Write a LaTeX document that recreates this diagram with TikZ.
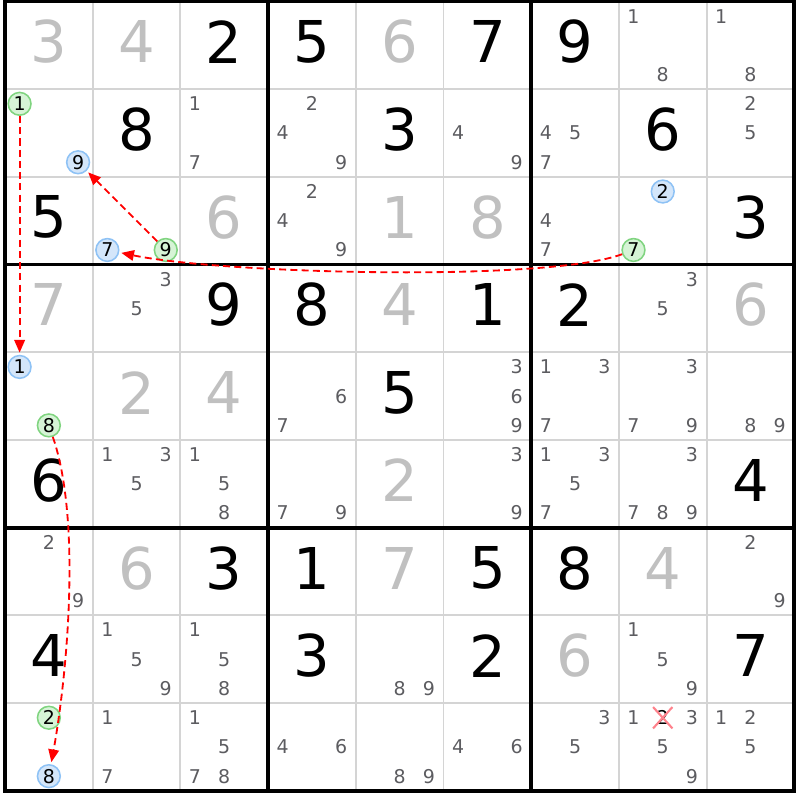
\documentclass[tikz,border=0pt]{standalone}
\usepackage{fontspec}
\setmainfont{DejaVu Sans}
\usetikzlibrary{arrows.meta,calc}
\tikzset{>={Triangle[length=9pt,width=7.5pt]}}
\definecolor{solvedgray}{RGB}{192,192,192}
\definecolor{candgray}{RGB}{92,92,96}
\definecolor{gridgray}{RGB}{212,212,212}
\definecolor{ongreen}{RGB}{128,212,128}
\definecolor{ongreenfill}{RGB}{214,244,214}
\definecolor{offblue}{RGB}{142,194,245}
\definecolor{offbluefill}{RGB}{212,230,250}
\definecolor{elimred}{RGB}{255,130,140}
\tikzstyle{given}=[font=\fontsize{41}{41}\selectfont,text=black,inner sep=0pt,yshift=2.5pt]
\tikzstyle{solved}=[given,text=solvedgray]
\tikzstyle{cand}=[font=\fontsize{13.5}{13.5}\selectfont,text=candgray,inner sep=0pt]
\tikzstyle{chainon}=[cand,circle,text=black,draw=ongreen,fill=ongreenfill,line width=1.1pt,minimum size=0.57cm]
\tikzstyle{chainoff}=[cand,circle,text=black,draw=offblue,fill=offbluefill,line width=1.1pt,minimum size=0.57cm]
\tikzstyle{elim}=[cand,text=black,inner sep=2.4pt]
\tikzstyle{thinline}=[gridgray,line width=1.4pt]
\tikzstyle{boxline}=[black,line width=2.6pt]
\tikzstyle{link}=[->,red,line width=1.3pt,dash pattern=on 5pt off 3pt,shorten >=1.5pt]

\begin{document}
\begin{tikzpicture}[x=2.1925cm,y=-2.1925cm]
	\useasboundingbox (-0.057,-0.017) rectangle (9.065,9.105);
	% grid
	\foreach \i in {1,2,4,5,7,8} {
		\draw[thinline] (\i,0) -- (\i,9);
		\draw[thinline] (0,\i) -- (9,\i);
	}
	\foreach \i in {3,6} {
		\draw[boxline] (\i,0) -- (\i,9);
		\draw[boxline] (0,\i) -- (9,\i);
	}
	\draw[boxline] (0,0) rectangle (9,9);

	% givens and solved cells
	\foreach \r/\c/\d in {1/3/2,1/4/5,1/6/7,1/7/9,2/2/8,2/5/3,2/8/6,3/1/5,3/9/3,
		4/3/9,4/4/8,4/6/1,4/7/2,5/5/5,6/1/6,6/9/4,7/3/3,7/4/1,7/6/5,7/7/8,
		8/1/4,8/4/3,8/6/2,8/9/7}
		\node[given] (cell\r\c) at (\c-0.5,\r-0.5) {\d};
	\foreach \r/\c/\d in {1/1/3,1/2/4,1/5/6,3/3/6,3/5/1,3/6/8,4/1/7,4/5/4,4/9/6,
		5/2/2,5/3/4,6/5/2,7/2/6,7/5/7,7/8/4,8/7/6}
		\node[solved] (cell\r\c) at (\c-0.5,\r-0.5) {\d};

	% candidates
	\foreach \r/\c/\k in {1/8/1,1/8/8,1/9/1,1/9/8,
		2/3/1,2/3/7,2/4/2,2/4/4,2/4/9,2/6/4,2/6/9,2/7/4,2/7/5,2/7/7,2/9/2,2/9/5,
		3/4/2,3/4/4,3/4/9,3/7/4,3/7/7,
		4/2/3,4/2/5,4/8/3,4/8/5,
		5/4/6,5/4/7,5/6/3,5/6/6,5/6/9,5/7/1,5/7/3,5/7/7,5/8/3,5/8/7,5/8/9,5/9/8,5/9/9,
		6/2/1,6/2/3,6/2/5,6/3/1,6/3/5,6/3/8,6/4/7,6/4/9,6/6/3,6/6/9,
		6/7/1,6/7/3,6/7/5,6/7/7,6/8/3,6/8/7,6/8/8,6/8/9,
		7/1/2,7/1/9,7/9/2,7/9/9,
		8/2/1,8/2/5,8/2/9,8/3/1,8/3/5,8/3/8,8/5/8,8/5/9,8/8/1,8/8/5,8/8/9,
		9/2/1,9/2/7,9/3/1,9/3/5,9/3/7,9/3/8,9/4/4,9/4/6,9/5/8,9/5/9,9/6/4,9/6/6,
		9/7/3,9/7/5,9/8/1,9/8/3,9/8/5,9/8/9,9/9/1,9/9/2,9/9/5} {
		\pgfmathsetmacro\candx{\c-1+(2*mod(\k-1,3)+1)/6}
		\pgfmathsetmacro\candy{\r-1+(2*floor((\k-1)/3)+1)/6}
		\node[cand] (cand\r\c\k) at (\candx,\candy) {\k};
	}

	% chain candidates
	\node[chainon] (cand211) at (0.1667,1.1667) {1};
	\node[chainoff] (cand219) at (0.8333,1.8333) {9};
	\node[chainoff] (cand327) at (1.1667,2.8333) {7};
	\node[chainon] (cand329) at (1.8333,2.8333) {9};
	\node[chainoff] (cand382) at (7.5,2.1667) {2};
	\node[chainon] (cand387) at (7.1667,2.8333) {7};
	\node[chainoff] (cand511) at (0.1667,4.1667) {1};
	\node[chainon] (cand518) at (0.5,4.8333) {8};
	\node[chainon] (cand912) at (0.5,8.1667) {2};
	\node[chainoff] (cand918) at (0.5,8.8333) {8};

	% eliminated candidate
	\node[elim] (cand982) at (7.5,8.1667) {2};
	\draw[elimred,line width=1.5pt] (cand982.north west) -- (cand982.south east)
		(cand982.north east) -- (cand982.south west);

	% links
	\draw[link] (cand211) -- (cand511);
	\draw[link] (cand329) -- (cand219);
	\draw[link] (cand387) .. controls +(-1.0,0.37) and +(1.3,0.27) .. (cand327);
	\draw[link] (cand518) .. controls +(0.38,1.1) and +(0.2,-1.1) .. (cand918);
\end{tikzpicture}
\end{document}
